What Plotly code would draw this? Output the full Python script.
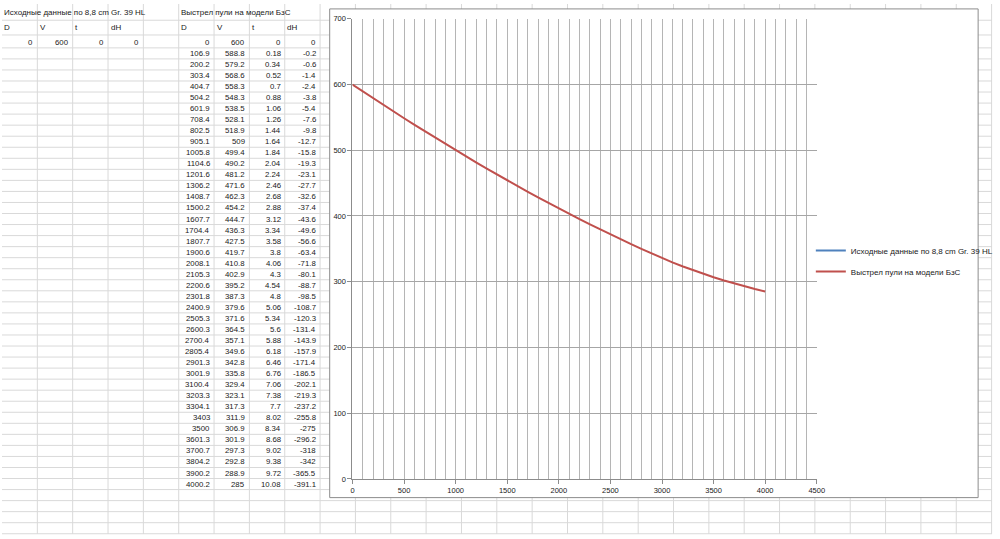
import plotly.graph_objects as go

# ---- data ----
src_title = "Исходные данные по 8,8 cm Gr. 39 HL"
bsc_title = "Выстрел пули на модели БзС"
headers = ["D", "V", "t", "dH"]

src_D = [0]
src_V = [600]
src_t = [0]
src_dH = [0]

bsc_D = [0, 106.9, 200.2, 303.4, 404.7, 504.2, 601.9, 708.4, 802.5, 905.1, 1005.8, 1104.6,
         1201.6, 1306.2, 1408.7, 1500.2, 1607.7, 1704.4, 1807.7, 1900.6, 2008.1, 2105.3,
         2200.6, 2301.8, 2400.9, 2505.3, 2600.3, 2700.4, 2805.4, 2901.3, 3001.9, 3100.4,
         3203.3, 3304.1, 3403, 3500, 3601.3, 3700.7, 3804.2, 3900.2, 4000.2]
bsc_V = [600, 588.8, 579.2, 568.6, 558.3, 548.3, 538.5, 528.1, 518.9, 509, 499.4, 490.2,
         481.2, 471.6, 462.3, 454.2, 444.7, 436.3, 427.5, 419.7, 410.8, 402.9,
         395.2, 387.3, 379.6, 371.6, 364.5, 357.1, 349.6, 342.8, 335.8, 329.4,
         323.1, 317.3, 311.9, 306.9, 301.9, 297.3, 292.8, 288.9, 285]
bsc_t = [0, 0.18, 0.34, 0.52, 0.7, 0.88, 1.06, 1.26, 1.44, 1.64, 1.84, 2.04,
         2.24, 2.46, 2.68, 2.88, 3.12, 3.34, 3.58, 3.8, 4.06, 4.3,
         4.54, 4.8, 5.06, 5.34, 5.6, 5.88, 6.18, 6.46, 6.76, 7.06,
         7.38, 7.7, 8.02, 8.34, 8.68, 9.02, 9.38, 9.72, 10.08]
bsc_dH = [0, -0.2, -0.6, -1.4, -2.4, -3.8, -5.4, -7.6, -9.8, -12.7, -15.8, -19.3,
          -23.1, -27.7, -32.6, -37.4, -43.6, -49.6, -56.6, -63.4, -71.8, -80.1,
          -88.7, -98.5, -108.7, -120.3, -131.4, -143.9, -157.9, -171.4, -186.5, -202.1,
          -219.3, -237.2, -255.8, -275, -296.2, -318, -342, -365.5, -391.1]

# ---- geometry helpers (pixels -> paper) ----
W, H = 1000, 539
def X(px):
    return px / W
def Y(py):
    return 1 - py / H

COLW = 35.7
ROW0 = 39.0
ROWH = 11.23
FONT = "Liberation Sans, Arial, sans-serif"
TXT = "#1a1a1a"
GRID = "#d9d9d9"
TSIZE = 8
NSIZE = 7.8

def fmt(v):
    return f"{v:g}"

annotations = []
def txt(s, px, py, anchor="left", size=TSIZE):
    annotations.append(dict(text=s, x=X(px), y=Y(py), xref="paper", yref="paper",
                            xanchor=anchor, yanchor="middle", showarrow=False,
                            font=dict(family=FONT, size=size, color=TXT)))

# titles and headers
txt(src_title, 0.5, 9)
txt(bsc_title, 179, 9)
for i, h in enumerate(headers):
    txt(h, COLW * i + 0.5, 24)
    txt(h, COLW * (5 + i) + 0.5, 24)

# left table
for k in range(len(src_D)):
    for i, col in enumerate([src_D, src_V, src_t, src_dH]):
        txt(fmt(col[k]), COLW * (i + 1) - 2, ROW0 + ROWH * k, "right", NSIZE)
# right table
for k in range(len(bsc_D)):
    for i, col in enumerate([bsc_D, bsc_V, bsc_t, bsc_dH]):
        txt(fmt(col[k]), COLW * (6 + i) - 2, ROW0 + ROWH * k, "right", NSIZE)

# spreadsheet grid as one path
parts = []
i = 1
while COLW * i < W:
    x = X(COLW * i)
    parts.append(f"M{x:.5f},0 V1")
    i += 1
hlines = [16.5, 31.5]
y = ROW0 + ROWH / 2
while y < H:
    hlines.append(y)
    y += ROWH
for yy in hlines:
    parts.append(f"M0,{Y(yy):.5f} H1")

shapes = [
    dict(type="path", path=" ".join(parts), xref="paper", yref="paper",
         line=dict(color=GRID, width=1), layer="below"),
    dict(type="rect", xref="paper", yref="paper", x0=X(331), x1=X(986), y0=Y(502), y1=Y(5),
         fillcolor="white", line=dict(color="#8c8c8c", width=1), layer="below"),
]

fig = go.Figure()
fig.add_trace(go.Scatter(x=src_D, y=src_V, mode="lines", name=src_title,
                         line=dict(color="#4f81bd", width=2), legendgroup="a"))
fig.add_trace(go.Scatter(x=bsc_D, y=bsc_V, mode="lines", name=bsc_title,
                         line=dict(color="#c0504d", width=2), legendgroup="b"))

fig.update_layout(
    width=W, height=H,
    margin=dict(l=0, r=0, t=0, b=0),
    paper_bgcolor="white",
    plot_bgcolor="rgba(0,0,0,0)",
    shapes=shapes,
    annotations=annotations,
    showlegend=True,
    legend=dict(x=X(817), y=Y(236), xanchor="left", yanchor="top",
                font=dict(family=FONT, size=8, color=TXT),
                bgcolor="rgba(0,0,0,0)", itemwidth=30, tracegroupgap=2),
    xaxis=dict(domain=[X(354), X(823)], range=[0, 4500], dtick=500, tick0=0,
               showgrid=True, gridcolor="#b5b5b5", gridwidth=1,
               minor=dict(dtick=100, showgrid=True, gridcolor="#b5b5b5", gridwidth=1),
               showline=True, linecolor="#8c8c8c", linewidth=1,
               ticks="outside", ticklen=4, tickcolor="#8c8c8c",
               tickfont=dict(family=FONT, size=7.5, color=TXT), zeroline=False),
    yaxis=dict(domain=[Y(483), Y(15)], range=[0, 700], dtick=100, tick0=0,
               showgrid=True, gridcolor="#a6a6a6", gridwidth=1,
               showline=True, linecolor="#8c8c8c", linewidth=1,
               ticks="outside", ticklen=4, tickcolor="#8c8c8c",
               tickfont=dict(family=FONT, size=7.5, color=TXT), zeroline=False),
)

fig.write_html("out.html", config={"displayModeBar": False},
               post_script="document.body.style.margin='0px';document.body.style.overflow='hidden';")
